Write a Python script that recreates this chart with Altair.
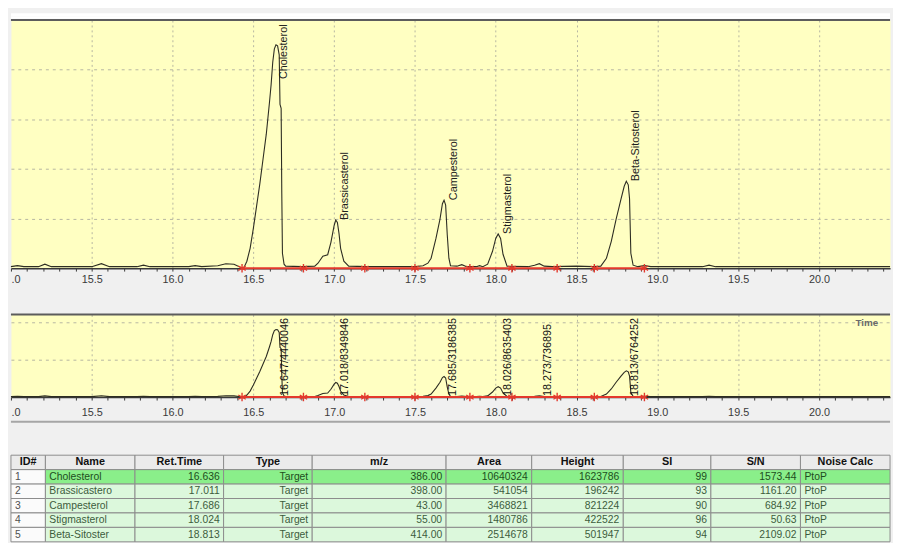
import altair as alt
import pandas as pd

FONT = "Liberation Sans"

# ---------------- chromatogram trace ----------------
trace_time = [15.00, 15.04, 15.08, 15.17, 15.21, 15.25, 15.50, 15.56, 15.61, 15.78, 15.82, 15.86,
              16.10, 16.14, 16.18, 16.28, 16.33, 16.38, 16.42, 16.44, 16.46, 16.48, 16.50, 16.52,
              16.54, 16.56, 16.58, 16.60, 16.61, 16.62, 16.63, 16.64, 16.65, 16.66, 16.665, 16.672,
              16.676, 16.680, 16.69, 16.70, 16.80, 16.88, 16.90, 16.93, 16.96, 16.98, 17.00, 17.01,
              17.02, 17.03, 17.04, 17.06, 17.09, 17.20, 17.50, 17.55, 17.58, 17.60, 17.63, 17.655,
              17.67, 17.68, 17.69, 17.70, 17.71, 17.72, 17.76, 17.79, 17.82, 17.88, 17.90, 17.92,
              17.95, 17.98, 18.00, 18.015, 18.03, 18.045, 18.07, 18.20, 18.24, 18.27, 18.30, 18.35,
              18.50, 18.60, 18.65, 18.685, 18.715, 18.745, 18.775, 18.795, 18.808, 18.82, 18.828,
              18.836, 18.85, 18.88, 18.92, 18.96, 19.28, 19.32, 19.36, 20.44]
trace_int = [0.03, 0.05, 0.03, 0.03, 0.08, 0.03, 0.03, 0.09, 0.03, 0.03, 0.06, 0.03,
             0.03, 0.05, 0.03, 0.05, 0.09, 0.08, 0.02, 0.00, 0.14, 0.40, 0.80, 1.25,
             1.70, 2.20, 2.70, 3.35, 3.70, 4.15, 4.42, 4.50, 4.48, 4.30, 3.30, 3.22,
             1.50, 0.30, 0.08, 0.04, 0.03, 0.04, 0.10, 0.24, 0.27, 0.52, 0.86, 0.97,
             0.92, 0.70, 0.40, 0.14, 0.04, 0.03, 0.03, 0.05, 0.10, 0.20, 0.60, 0.99,
             1.30, 1.37, 1.27, 0.67, 0.20, 0.05, 0.04, 0.07, 0.03, 0.03, 0.05, 0.03,
             0.08, 0.34, 0.60, 0.69, 0.60, 0.28, 0.04, 0.03, 0.06, 0.09, 0.04, 0.03,
             0.04, 0.03, 0.04, 0.20, 0.54, 0.99, 1.39, 1.65, 1.75, 1.68, 1.40,
             0.30, 0.06, 0.03, 0.05, 0.03, 0.03, 0.06, 0.03, 0.03]

# peak labels, top panel
peak_names = ["Cholesterol", "Brassicasterol", "Campesterol", "Stigmasterol", "Beta-Sitosterol"]
peak_rt = [16.636, 17.011, 17.686, 18.024, 18.813]
peak_height = [4.50, 0.97, 1.37, 0.69, 1.75]

# peak labels, bottom panel
ion_labels = ["16.647/4440046", "17.018/8349846", "17.685/3186385",
              "18.026/8635403", "18.273/736895", "18.813/6764252"]
ion_rt = [16.647, 17.018, 17.685, 18.026, 18.273, 18.813]

# integration marks and baselines
marker_time = [16.43, 16.81, 17.19, 17.50, 17.84, 18.10, 18.38, 18.61, 18.92]
top_base_start = [16.43, 18.61]
top_base_end = [18.38, 18.92]
bot_base_start = [16.43]
bot_base_end = [18.92]

x_ticks = [round(15.0 + 0.1 * i, 1) for i in range(55)]
top_grid = [1, 2, 3, 4]
bot_grid = [2.5, 5.0]

# ---------------- results table ----------------
col_names = ["ID#", "Name", "Ret.Time", "Type", "m/z", "Area", "Height", "SI", "S/N", "Noise Calc"]
row_id = ["1", "2", "3", "4", "5"]
row_name = ["Cholesterol", "Brassicastero", "Campesterol", "Stigmasterol", "Beta-Sitoster"]
row_ret = ["16.636", "17.011", "17.686", "18.024", "18.813"]
row_type = ["Target", "Target", "Target", "Target", "Target"]
row_mz = ["386.00", "398.00", "43.00", "55.00", "414.00"]
row_area = ["10640324", "541054", "3468821", "1480786", "2514678"]
row_height = ["1623786", "196242", "821224", "422522", "501947"]
row_si = ["99", "93", "90", "96", "94"]
row_sn = ["1573.44", "1161.20", "684.92", "50.63", "2109.02"]
row_noise = ["PtoP", "PtoP", "PtoP", "PtoP", "PtoP"]

# layout constants
col_widths = [35, 91, 90, 90, 136, 87, 93, 89, 91, 91]
col_align = ["left", "left", "right", "right", "right", "right", "right", "right", "right", "left"]
W, H1, H2, HT = 893, 252, 84, 100
X0, X1 = 15.0, 20.44
TOP1, TOP2 = 5.0, 5.5
ASTER = "M0,-1L0,1M-0.87,-0.5L0.87,0.5M-0.87,0.5L0.87,-0.5"
RED = "#e3392c"
YELLOW = "#ffffc2"
GRIDC = "#b6b6a2"

trace_df = pd.DataFrame({"t": trace_time, "v": trace_int})
xs = alt.Scale(domain=[X0, X1], nice=False, zero=False)

major = "abs(datum.value * 2 - round(datum.value * 2)) < 0.001"


def x_axis(pad, **kw):
    return alt.Axis(
        values=x_ticks, tickCount=200,
        labelExpr=f"{major} ? (datum.value < 15.05 ? '.0' : format(datum.value, '.1f')) : ''",
        labelFlush=True, labelOverlap=False, labelFont=FONT, labelFontSize=11,
        labelColor="#3a3a3a", labelPadding=pad, tickSize=3, tickColor="#3a3a3a",
        domainColor="#3a3a3a", domainWidth=1.5, grid=True, gridColor=GRIDC,
        gridDash=[2, 3], gridWidth=1,
        gridOpacity={"condition": {"test": f"{major} && datum.value > 15.05", "value": 1}, "value": 0},
        **kw)


def y_axis(vals):
    return alt.Axis(values=vals, grid=True, gridColor=GRIDC, gridDash=[3, 4],
                    labels=False, ticks=False, domain=False, title=None)


def xenc(f, axis=alt.Undefined):
    return alt.X(f, type="quantitative", scale=xs, axis=axis)


def yenc(f, top, axis=alt.Undefined):
    return alt.Y(f, type="quantitative", scale=alt.Scale(domain=[0, top], nice=False, zero=True), axis=axis)


def panel_layers(top, grid_vals, lab_pad, seg_s, seg_e, **title_kw):
    tr = alt.Chart(trace_df).mark_line(color="#2d2d22", strokeWidth=1.1).encode(
        x=xenc("t", x_axis(lab_pad, **title_kw)), y=yenc("v", top, y_axis(grid_vals)))
    border = alt.Chart(pd.DataFrame({"t0": [X0], "t1": [X1], "v": [top]})).mark_rule(
        color="#5c5c5c", strokeWidth=2, strokeJoin="bevel").encode(x=xenc("t0"), x2="t1", y=yenc("v", top))
    base = alt.Chart(pd.DataFrame({"t0": seg_s, "t1": seg_e})).transform_calculate(v="0").mark_rule(
        color=RED, strokeWidth=2).encode(x=xenc("t0"), x2="t1", y=yenc("v", top))
    marks = alt.Chart(pd.DataFrame({"t": marker_time})).transform_calculate(v="0").mark_point(
        shape=ASTER, filled=False, color=RED, size=75, strokeWidth=1.4, opacity=1).encode(
        x=xenc("t"), y=yenc("v", top))
    return [tr, border, base, marks]


one = pd.DataFrame({"a": [0]})

# ---- top panel ----
# white window strip above the top panel (thin rules, style only)
strips = [alt.Chart(one).mark_rule(color="#ffffff", strokeWidth=1.75, strokeJoin="bevel").encode(
    x=alt.value(0), x2=alt.value(W), y=alt.value(yy)) for yy in [-0.875, -2.625, -4.375, -6.125]]
lab1 = alt.Chart(pd.DataFrame({"name": peak_names, "rt": peak_rt, "h": peak_height})).transform_calculate(
    ly="min(datum.h, 3.81)").mark_text(
    angle=270, align="left", baseline="middle", dy=9, font=FONT, fontSize=11, color="#1e1e1e").encode(
    x=xenc("rt"), y=yenc("ly", TOP1), text="name:N")
p1 = alt.layer(*strips, *panel_layers(TOP1, top_grid, 3, top_base_start, top_base_end, title=None), lab1).properties(
    width=W, height=H1, view=alt.ViewBackground(fill=YELLOW))

# ---- bottom panel ----
lab2 = alt.Chart(pd.DataFrame({"lab": ion_labels, "rt": ion_rt})).transform_calculate(v="0").mark_text(
    angle=270, align="left", baseline="middle", dx=1, dy=8, font=FONT, fontSize=11, color="#111111").encode(
    x=xenc("rt"), y=yenc("v", TOP2), text="lab:N")
sep = alt.Chart(one).mark_rule(color="#a6a6a6", strokeWidth=2).encode(
    x=alt.value(0), x2=alt.value(W), y=alt.value(H2 + 25))
p2 = alt.layer(*panel_layers(TOP2, bot_grid, 7, bot_base_start, bot_base_end,
                             title="Time", titleX=869, titleY=-76, titleAlign="center",
                             titleBaseline="middle", titleAngle=0, titleFont=FONT, titleFontSize=10,
                             titleFontWeight="bold", titleColor="#6a6a6a"),
               lab2, sep).properties(width=W, height=H2, view=alt.ViewBackground(fill=YELLOW))

# ---- table ----
columns_data = [row_id, row_name, row_ret, row_type, row_mz, row_area, row_height, row_si, row_sn, row_noise]
recs = []
xpos = 0
for name, w, al, vals in zip(col_names, col_widths, col_align, columns_data):
    recs.append(dict(x0=xpos, x1=xpos + w, row="h", txt=name, kind="head", fill="#ebebeb", tc="#111111"))
    for i, v in enumerate(vals):
        if name == "ID#":
            fill, tc = "#fbfbfb", "#505050"
        elif i == 0:
            fill, tc = "#8aef8a", "#1d4d1d"
        else:
            fill, tc = "#dcf8dc", "#3c5c3c"
        recs.append(dict(x0=xpos, x1=xpos + w, row=str(i + 1), txt=v, kind=al, fill=fill, tc=tc))
    xpos += w
table_df = pd.DataFrame(recs)

txs = alt.Scale(domain=[0, W], nice=False, zero=False)
tys = alt.Scale(domain=["h", "1", "2", "3", "4", "5"], range=[12, HT], paddingInner=0, paddingOuter=0)
ty = alt.Y("row:N", scale=tys, axis=None)
tb = alt.Chart(table_df)
cells = tb.mark_rect(stroke="#8c8c8c", strokeWidth=1).encode(
    x=alt.X("x0:Q", scale=txs, axis=None), x2="x1", y=ty, fill=alt.Fill("fill:N", scale=None))
head = tb.transform_filter("datum.kind == 'head'").transform_calculate(
    xc="(datum.x0 + datum.x1) / 2").mark_text(
    align="center", baseline="middle", font=FONT, fontSize=11, fontWeight="bold", color="#111111").encode(
    x=alt.X("xc:Q", scale=txs, axis=None), y=ty, text="txt:N")
left = tb.transform_filter("datum.kind == 'left'").mark_text(
    align="left", baseline="middle", dx=4, font=FONT, fontSize=10.5).encode(
    x=alt.X("x0:Q", scale=txs, axis=None), y=ty, text="txt:N", color=alt.Color("tc:N", scale=None))
right = tb.transform_filter("datum.kind == 'right'").mark_text(
    align="right", baseline="middle", dx=-4, font=FONT, fontSize=10.5).encode(
    x=alt.X("x1:Q", scale=txs, axis=None), y=ty, text="txt:N", color=alt.Color("tc:N", scale=None))
table = alt.layer(cells, head, left, right).properties(width=W, height=HT)

chart = alt.vconcat(p1, p2, table, spacing=47, bounds="flush").properties(
    background="#f0f0f0", padding={"left": 0, "right": 0, "top": 0, "bottom": 0}
).configure_view(stroke="transparent")

chart.save("out.html", embed_options={"renderer": "svg", "actions": False})
